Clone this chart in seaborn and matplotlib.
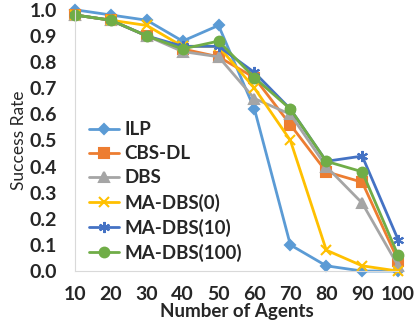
import pandas as pd
import seaborn as sns
import matplotlib.pyplot as plt

agents = [10, 20, 30, 40, 50, 60, 70, 80, 90, 100]
ilp = [1.00, 0.98, 0.96, 0.88, 0.94, 0.62, 0.10, 0.02, 0.00, 0.00]
cbs_dl = [0.98, 0.96, 0.90, 0.85, 0.82, 0.74, 0.56, 0.38, 0.34, 0.04]
dbs = [0.98, 0.96, 0.90, 0.84, 0.82, 0.66, 0.60, 0.40, 0.26, 0.02]
ma_dbs_0 = [0.98, 0.96, 0.94, 0.86, 0.86, 0.70, 0.50, 0.08, 0.02, 0.00]
ma_dbs_10 = [0.98, 0.96, 0.90, 0.86, 0.86, 0.76, 0.62, 0.42, 0.44, 0.12]
ma_dbs_100 = [0.98, 0.96, 0.90, 0.85, 0.88, 0.74, 0.62, 0.42, 0.38, 0.06]

series = {
    "ILP": ilp,
    "CBS-DL": cbs_dl,
    "DBS": dbs,
    "MA-DBS(0)": ma_dbs_0,
    "MA-DBS(10)": ma_dbs_10,
    "MA-DBS(100)": ma_dbs_100,
}
colors = ["#5B9BD5", "#ED7D31", "#A5A5A5", "#FFC000", "#4472C4", "#70AD47"]
markers = ["D", "s", "^", "x", (6, 2, 0), "o"]
sizes = [5, 7, 7, 7, 8, 7]

df = pd.DataFrame(
    [(name, a, v) for name, vals in series.items() for a, v in zip(agents, vals)],
    columns=["method", "agents", "rate"],
)

sns.set_style("white")
plt.rcParams["font.family"] = ["Lato", "DejaVu Sans"]

fig, ax = plt.subplots(figsize=(4.16, 3.25), dpi=100)
for (name, _), c, m, s in zip(series.items(), colors, markers, sizes):
    sns.lineplot(
        data=df[df["method"] == name],
        x="agents",
        y="rate",
        color=c,
        marker=m,
        markersize=s,
        markeredgecolor=c,
        markeredgewidth=1.5,
        linewidth=2,
        label=name,
        clip_on=False,
        ax=ax,
    )

ax.set_xlim(10, 100)
ax.set_ylim(0, 1.0)
ax.set_xticks(agents)
ax.set_yticks([i / 10 for i in range(11)])
ax.set_yticklabels([f"{i / 10:.1f}" for i in range(11)])
ax.tick_params(axis="both", labelsize=14, length=0)
ax.tick_params(axis="x", pad=11)
ax.tick_params(axis="y", pad=13)
for lbl in ax.get_xticklabels() + ax.get_yticklabels():
    lbl.set_fontweight("bold")
ax.spines[["top", "right"]].set_visible(False)
ax.spines[["left", "bottom"]].set_color("#D9D9D9")
ax.set_xlabel("Number of Agents", fontsize=13.5, fontweight="bold", labelpad=0)
ax.set_ylabel("Success Rate", fontsize=12.5, labelpad=2)

ax.legend(
    loc="lower left",
    bbox_to_anchor=(-0.01, -0.03),
    frameon=False,
    prop={"size": 13.5, "weight": "bold"},
    handlelength=1.6,
    handletextpad=0.3,
    labelspacing=0.38,
)

fig.subplots_adjust(left=0.18, right=0.957, top=0.97, bottom=0.166)
fig.savefig("out.png", dpi=100)
